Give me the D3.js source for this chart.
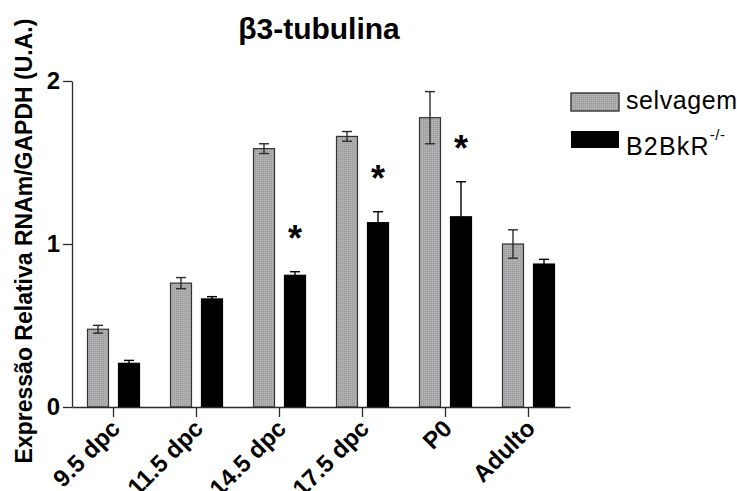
<!DOCTYPE html>
<html>
<head>
<meta charset="utf-8">
<script src="https://cdn.jsdelivr.net/npm/d3@7"></script>
<style>
  html, body { margin: 0; padding: 0; background: #fff; }
  svg { display: block; font-family: Arial, "Liberation Sans", sans-serif; }
</style>
</head>
<body>
<svg id="chart" width="737" height="491"></svg>
<script>
// Relative expression of beta3-tubulin (mRNA / GAPDH) by developmental stage
const categories = ["9.5 dpc", "11.5 dpc", "14.5 dpc", "17.5 dpc", "P0", "Adulto"];
const seriesNames = ["selvagem", "B2BkR"];
const selvagem = [0.477, 0.76, 1.585, 1.66, 1.775, 1.0];
const selvagemErr = [0.024, 0.034, 0.03, 0.03, 0.16, 0.087];
const knockout = [0.268, 0.663, 0.808, 1.131, 1.167, 0.877];
const knockoutErr = [0.018, 0.014, 0.022, 0.067, 0.215, 0.029];
const significant = [false, false, true, true, true, false];
const yTicks = [0, 1, 2];

const svg = d3.select("#chart");

// gray stipple fill for the wild-type bars
const defs = svg.append("defs");
const pat = defs.append("pattern")
  .attr("id", "stipple").attr("patternUnits", "userSpaceOnUse")
  .attr("width", 2).attr("height", 2);
pat.append("rect").attr("width", 2).attr("height", 2).attr("fill", "#a8a8ab");
pat.append("rect").attr("width", 1).attr("height", 1).attr("fill", "#b8b8ba");
pat.append("rect").attr("x", 1).attr("y", 1).attr("width", 1).attr("height", 1).attr("fill", "#9e9ea1");

const x = d3.scaleBand().domain(categories).range([72, 570]).padding(0);
const xs = d3.scaleBand().domain(seriesNames).range([15.5, 67.5])
  .paddingInner(0.3226).paddingOuter(0);
const y = d3.scaleLinear().domain([0, 2]).range([407, 81]);

const rows = categories.map((c, i) => ({
  cat: c,
  bars: [
    { s: "selvagem", v: selvagem[i], e: selvagemErr[i] },
    { s: "B2BkR", v: knockout[i], e: knockoutErr[i] }
  ],
  sig: significant[i]
}));

const axisColor = "#2b2b2b";

// bars
const g = svg.append("g");
const grp = g.selectAll("g.grp").data(rows).join("g")
  .attr("class", "grp")
  .attr("transform", d => `translate(${x(d.cat)},0)`);

grp.selectAll("rect").data(d => d.bars).join("rect")
  .attr("x", d => xs(d.s))
  .attr("y", d => y(d.v))
  .attr("width", xs.bandwidth())
  .attr("height", d => y(0) - y(d.v))
  .attr("fill", d => d.s === "selvagem" ? "url(#stipple)" : "#000")
  .attr("stroke", d => d.s === "selvagem" ? "#333" : "#000")
  .attr("stroke-width", 1.2);

// error bars (mean ± error); on the black bars the lower half disappears into the fill
const capW = 10;
const eb = grp.selectAll("g.err").data(d => d.bars).join("g").attr("class", "err")
  .attr("stroke", d => d.s === "selvagem" ? axisColor : "#000")
  .attr("stroke-width", 1.4);
eb.append("line")
  .attr("x1", d => xs(d.s) + xs.bandwidth() / 2)
  .attr("x2", d => xs(d.s) + xs.bandwidth() / 2)
  .attr("y1", d => y(d.v + d.e))
  .attr("y2", d => y(d.v - d.e));
eb.append("line")
  .attr("x1", d => xs(d.s) + xs.bandwidth() / 2 - capW / 2)
  .attr("x2", d => xs(d.s) + xs.bandwidth() / 2 + capW / 2)
  .attr("y1", d => y(d.v + d.e))
  .attr("y2", d => y(d.v + d.e));
eb.append("line")
  .attr("x1", d => xs(d.s) + xs.bandwidth() / 2 - capW / 2)
  .attr("x2", d => xs(d.s) + xs.bandwidth() / 2 + capW / 2)
  .attr("y1", d => y(d.v - d.e))
  .attr("y2", d => y(d.v - d.e));

// significance marks above the knockout bars
grp.filter(d => d.sig).append("text")
  .attr("x", xs("B2BkR") + xs.bandwidth() / 2)
  .attr("y", d => y(d.bars[1].v + d.bars[1].e) - 21)
  .attr("text-anchor", "middle")
  .attr("font-size", 36).attr("font-weight", "bold")
  .attr("fill", "#000")
  .text("*");

// axes
const yAxis = svg.append("g").attr("transform", "translate(72,0)")
  .call(d3.axisLeft(y).tickValues(yTicks).tickFormat(d3.format("d"))
    .tickSize(9).tickSizeOuter(0).tickPadding(3));
yAxis.selectAll("path, line").attr("stroke", axisColor).attr("stroke-width", 1.3);
yAxis.selectAll("text").attr("font-size", 24).attr("font-weight", "bold")
  .attr("fill", "#000").attr("font-family", "Arial, 'Liberation Sans', sans-serif");

const xAxis = svg.append("g").attr("transform", "translate(0,407)")
  .call(d3.axisBottom(x).tickSize(10).tickSizeOuter(0));
xAxis.selectAll("path, line").attr("stroke", axisColor).attr("stroke-width", 1.3);
xAxis.selectAll("text")
  .attr("font-size", 24).attr("font-weight", "bold").attr("fill", "#000")
  .attr("font-family", "Arial, 'Liberation Sans', sans-serif")
  .attr("text-anchor", "end")
  .attr("dy", null)
  .attr("y", 0)
  .attr("transform", "translate(8,23) rotate(-45)");

// title
svg.append("text")
  .attr("x", 319).attr("y", 39)
  .attr("text-anchor", "middle")
  .attr("font-size", 30).attr("font-weight", "bold")
  .text("β3-tubulina");

// y-axis title
svg.append("text")
  .attr("transform", "translate(32,241) rotate(-90)")
  .attr("text-anchor", "middle")
  .attr("font-size", 23).attr("font-weight", "bold")
  .text("Expressão Relativa RNAm/GAPDH (U.A.)");

// legend
const legend = svg.append("g");
legend.append("rect").attr("x", 571).attr("y", 93).attr("width", 48).attr("height", 18)
  .attr("fill", "url(#stipple)").attr("stroke", "#333").attr("stroke-width", 1.4);
legend.append("rect").attr("x", 571).attr("y", 131).attr("width", 48).attr("height", 17)
  .attr("fill", "#000");
legend.append("text").attr("x", 626).attr("y", 109)
  .attr("font-size", 25).attr("letter-spacing", 0.6).text(seriesNames[0]);
const lt = legend.append("text").attr("x", 626).attr("y", 155)
  .attr("font-size", 25).attr("letter-spacing", 1.2);
lt.append("tspan").text(seriesNames[1]);
lt.append("tspan").attr("font-size", 15).attr("letter-spacing", 0.5).attr("dy", -15).text("-/-");
</script>
</body>
</html>
